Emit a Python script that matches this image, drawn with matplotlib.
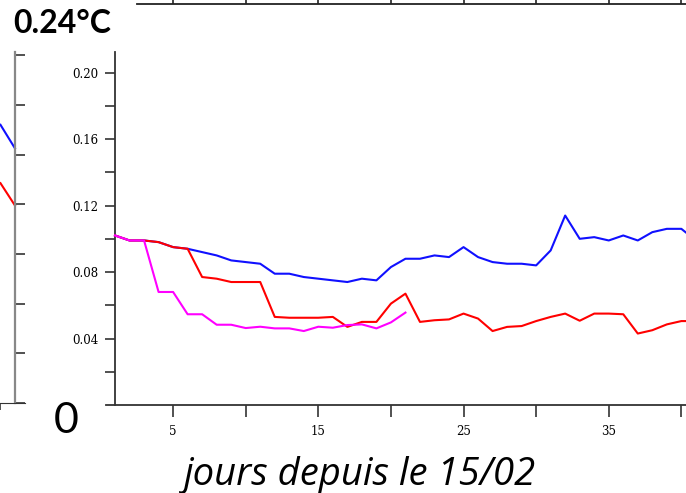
#!/usr/bin/env python3
"""
Temperature anomaly plot: three runs, days since 15/02
"""

import matplotlib
matplotlib.use("Agg")
import matplotlib.pyplot as plt

W, H = 686, 493

# main panel data
DAYS = list(range(1, 42))
BLUE = [0.102, 0.099, 0.099, 0.098, 0.095, 0.094, 0.092, 0.090, 0.087, 0.086,
        0.085, 0.079, 0.079, 0.077, 0.076, 0.075, 0.074, 0.076, 0.075, 0.083,
        0.088, 0.088, 0.090, 0.089, 0.095, 0.089, 0.086, 0.085, 0.085, 0.084,
        0.093, 0.114, 0.100, 0.101, 0.099, 0.102, 0.099, 0.104, 0.106, 0.106,
        0.099]
RED = [0.102, 0.099, 0.099, 0.098, 0.095, 0.094, 0.077, 0.076, 0.074, 0.074,
       0.074, 0.053, 0.0525, 0.0525, 0.0525, 0.053, 0.047, 0.050, 0.050, 0.061,
       0.067, 0.050, 0.051, 0.0515, 0.055, 0.052, 0.0445, 0.047, 0.0475, 0.0505,
       0.053, 0.055, 0.0507, 0.055, 0.055, 0.0546, 0.043, 0.045, 0.0485, 0.0505,
       0.0505]
MAGENTA_DAYS = list(range(1, 22))
MAGENTA = [0.102, 0.099, 0.099, 0.068, 0.068, 0.0546, 0.0546, 0.0483, 0.0483,
           0.0463, 0.0471, 0.0461, 0.0461, 0.0445, 0.0471, 0.0465, 0.0481,
           0.0485, 0.0461, 0.0497, 0.0556]

# previous panel, only its right edge shows on the left
PREV_DAYS = [40, 41]
PREV_BLUE = [0.224, 0.205]
PREV_RED = [0.177, 0.159]
PREV_Y_TICKS = [0.0, 0.04, 0.08, 0.12, 0.16, 0.20, 0.24, 0.28]

X_TICKS = [5, 10, 15, 20, 25, 30, 35, 40]
X_LABELS = ['5', '', '15', '', '25', '', '35', '']
Y_TICKS = [0.04, 0.08, 0.12, 0.16, 0.20]
Y_LABELS = ['0.04', '0.08', '0.12', '0.16', '0.20']
Y_MINOR = [0.02, 0.06, 0.10, 0.14, 0.18]

TITLE = '0.24°C'
ZERO = '0'
XLABEL = 'jours depuis le 15/02'


def rect(x0, y0, x1, y1):
    """pixel box (top-left, bottom-right) -> figure fraction rect"""
    return [x0 / W, 1 - y1 / H, (x1 - x0) / W, (y1 - y0) / H]


def main():
    fig = plt.figure(figsize=(W / 100, H / 100), dpi=100)
    serif = 'DejaVu Serif'

    # --- main panel
    ax = fig.add_axes(rect(106, 52, 686, 405))
    ax.plot(DAYS, BLUE, color='#1010ff', lw=1.5, zorder=3)
    ax.plot(DAYS, RED, color='#ff0000', lw=1.5, zorder=4)
    ax.plot(MAGENTA_DAYS, MAGENTA, color='#ff00ff', lw=1.5, zorder=5)
    ax.set_xlim(0.379, 40.32)
    ax.set_ylim(0, 0.2124)
    ax.spines['left'].set_position(('data', 1))
    ax.spines['top'].set_visible(False)
    ax.spines['right'].set_visible(False)
    for s in ('left', 'bottom'):
        ax.spines[s].set_color('#333333')
        ax.spines[s].set_linewidth(1.3)
    ax.set_xticks(X_TICKS)
    ax.set_xticklabels(X_LABELS, family=serif, fontsize=8.5)
    ax.set_yticks(Y_TICKS)
    ax.set_yticklabels(Y_LABELS, family=serif, fontsize=8.5)
    ax.set_yticks(Y_MINOR, minor=True)
    ax.tick_params(axis='x', direction='out', length=8.6, width=1.2,
                   pad=6, color='#333333')
    ax.tick_params(axis='y', which='both', direction='out', length=7.2,
                   width=1.2, pad=5, color='#333333')

    # --- right edge of previous panel
    axp = fig.add_axes(rect(-144.7, 52, 25, 403))
    axp.plot(PREV_DAYS, PREV_BLUE, color='#1010ff', lw=1.5)
    axp.plot(PREV_DAYS, PREV_RED, color='#ff0000', lw=1.5)
    axp.set_xlim(30, 41.69)
    axp.set_ylim(0, 0.2826)
    axp.spines['right'].set_position(('data', 41))
    axp.spines['right'].set_color('#888888')
    axp.spines['right'].set_linewidth(1.6)
    axp.spines['left'].set_visible(False)
    axp.spines['top'].set_visible(False)
    axp.spines['bottom'].set_color('#333333')
    axp.yaxis.tick_right()
    axp.set_yticks(PREV_Y_TICKS)
    axp.set_yticklabels([])
    axp.set_xticks([40])
    axp.set_xticklabels([])
    axp.tick_params(axis='y', direction='out', length=7.2, width=1.2,
                    color='#333333')
    axp.tick_params(axis='x', direction='out', length=5, width=1.2,
                    color='#333333')

    # --- bottom edge of the panel above
    axt = fig.add_axes(rect(137, -40, 700, 4))
    axt.set_xlim(2.51, 41.29)
    for s in ('left', 'right', 'top'):
        axt.spines[s].set_visible(False)
    axt.spines['bottom'].set_color('#222222')
    axt.spines['bottom'].set_linewidth(1.3)
    axt.set_xticks(X_TICKS)
    axt.set_xticklabels([])
    axt.set_yticks([])
    axt.tick_params(axis='x', direction='in', length=10, width=1.2,
                    color='#222222')

    # --- slide annotations
    fig.text(13 / W, 1 - 33 / H, TITLE, family='Lato', fontweight='bold',
             fontsize=23, ha='left', va='baseline')
    fig.text(66.5 / W, 1 - 433 / H, ZERO, family='Lato', fontsize=31,
             ha='center', va='baseline')
    fig.text(184 / W, 1 - 485 / H, XLABEL, family='Open Sans', style='italic',
             fontsize=27.5, ha='left', va='baseline')

    fig.savefig('out.png', dpi=100)
    plt.close(fig)


if __name__ == "__main__":
    main()
